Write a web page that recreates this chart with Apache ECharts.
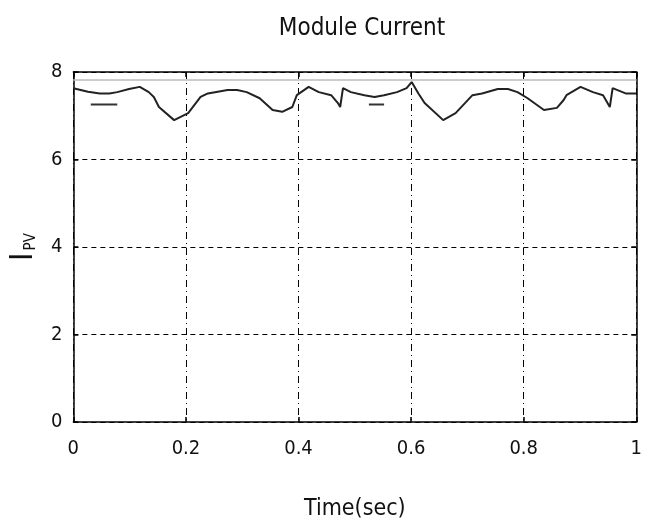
<!DOCTYPE html>
<html>
<head>
<meta charset="utf-8">
<script src="https://cdn.jsdelivr.net/npm/echarts@6/dist/echarts.min.js"></script>
<style>html,body{margin:0;padding:0;background:#fff;}#c{width:645px;height:531px;}</style>
</head>
<body>
<div id="c"></div>
<script>
const titleText = 'Module Current';
const xLabel = 'Time(sec)';
const xTicks = [0, 0.2, 0.4, 0.6, 0.8, 1];
const yTicks = [0, 2, 4, 6, 8];
const timeSec = [0, 0.026, 0.047, 0.064, 0.078, 0.099, 0.118, 0.134, 0.143, 0.152, 0.179, 0.204, 0.226, 0.239, 0.274, 0.291, 0.308, 0.331, 0.354, 0.371, 0.389, 0.397, 0.418, 0.436, 0.458, 0.470, 0.474, 0.479, 0.493, 0.517, 0.535, 0.552, 0.575, 0.592, 0.601, 0.613, 0.624, 0.657, 0.679, 0.709, 0.726, 0.754, 0.772, 0.789, 0.807, 0.836, 0.859, 0.871, 0.876, 0.901, 0.923, 0.941, 0.953, 0.958, 0.981, 1.0];
const currentA = [7.63, 7.55, 7.51, 7.51, 7.54, 7.61, 7.66, 7.54, 7.43, 7.2, 6.9, 7.06, 7.43, 7.51, 7.59, 7.59, 7.54, 7.4, 7.13, 7.09, 7.2, 7.47, 7.66, 7.54, 7.47, 7.29, 7.2, 7.63, 7.54, 7.47, 7.43, 7.47, 7.54, 7.63, 7.77, 7.51, 7.29, 6.9, 7.06, 7.47, 7.51, 7.61, 7.61, 7.54, 7.4, 7.13, 7.18, 7.36, 7.47, 7.66, 7.54, 7.47, 7.2, 7.63, 7.51, 7.51];
// short detached trace fragments visible in the picture
const ghostT = [0.031, 0.078, null, 0.525, 0.552];
const ghostV = [7.26, 7.26, null, 7.26, 7.26];

const FONT = '"DejaVu Sans Condensed", "Liberation Sans Narrow", "Liberation Sans", sans-serif';
const chart = echarts.init(document.getElementById('c'), null, {renderer: 'canvas'});
const mainData = timeSec.map((t, i) => [t, currentA[i]]);
const ghostData = ghostT.map((t, i) => t === null ? [null, null] : [t, ghostV[i]]);

const axisCommon = {
  type: 'value',
  axisLine: {show: true, onZero: false, lineStyle: {color: '#000', width: 1.5}},
  axisTick: {show: true, inside: true, length: 5, lineStyle: {color: '#000', width: 1.5}},
};
chart.setOption({
  backgroundColor: '#fff',
  animation: false,
  title: {
    text: titleText, left: 357, top: 12, textAlign: 'center',
    textStyle: {fontFamily: FONT, fontSize: 24, fontWeight: 'normal', color: '#111'}
  },
  grid: {left: 70, right: 1, top: 72, bottom: 109, containLabel: false},
  xAxis: [
    Object.assign({}, axisCommon, {
      min: xTicks[0], max: xTicks[xTicks.length - 1], interval: 0.2, position: 'bottom',
      name: xLabel, nameLocation: 'middle', nameGap: 76,
      nameTextStyle: {fontFamily: FONT, fontSize: 23, color: '#111'},
      axisLabel: {margin: 17, fontFamily: FONT, fontSize: 20, color: '#111',
        formatter: v => String(Math.round(v * 10) / 10)},
      splitLine: {show: true, lineStyle: {color: '#000', width: 1, type: [7, 4, 1, 4]}}
    }),
    Object.assign({}, axisCommon, {
      min: xTicks[0], max: xTicks[xTicks.length - 1], interval: 0.2, position: 'top',
      axisLabel: {show: false}, splitLine: {show: false}
    })
  ],
  yAxis: [
    Object.assign({}, axisCommon, {
      min: yTicks[0], max: yTicks[yTicks.length - 1], interval: 2, position: 'left',
      name: '{a|I}{b|PV}', nameLocation: 'middle', nameGap: 32, nameRotate: 90,
      nameTextStyle: {
        rich: {
          a: {fontFamily: FONT, fontSize: 32, color: '#111'},
          b: {fontFamily: FONT, fontSize: 15, color: '#111', padding: [14, 0, 0, 2]}
        }
      },
      axisLabel: {margin: 11, fontFamily: FONT, fontSize: 20, color: '#111'},
      splitLine: {show: true, lineStyle: {color: '#000', width: 1, type: [5, 4]}}
    }),
    Object.assign({}, axisCommon, {
      min: yTicks[0], max: yTicks[yTicks.length - 1], interval: 2, position: 'right',
      axisLabel: {show: false}, splitLine: {show: false}
    })
  ],
  series: [
    {
      type: 'line', data: mainData, showSymbol: false, symbol: 'none',
      lineStyle: {color: '#222', width: 2},
      markLine: {
        silent: true, symbol: 'none', label: {show: false},
        lineStyle: {color: '#bbb', width: 1.5, type: 'solid'},
        data: [{yAxis: 7.82}]
      }
    },
    {
      type: 'line', data: ghostData, showSymbol: false, symbol: 'none', connectNulls: false,
      lineStyle: {color: '#333', width: 2}
    }
  ]
});
</script>
</body>
</html>
